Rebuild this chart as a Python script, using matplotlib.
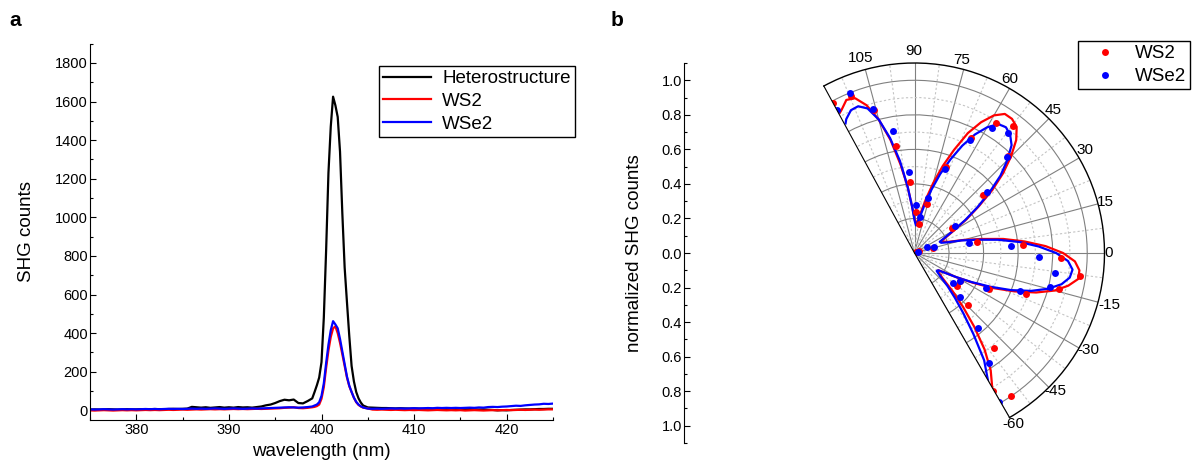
import numpy as np
import matplotlib
matplotlib.use("Agg")
import matplotlib.pyplot as plt
from matplotlib.ticker import MultipleLocator, NullFormatter

plt.rcParams['font.family'] = ['Liberation Sans', 'DejaVu Sans']

# ---------------- panel a: SHG spectra ----------------
# sampling grid: coarse on the flanks, finer across the peak
wl_left = np.arange(375.0, 399.01, 0.5)
wl_peak = np.arange(399.25, 404.51, 0.25)
wl_right = np.arange(405.0, 425.01, 0.5)
wavelength = np.concatenate([wl_left, wl_peak, wl_right])

hetero = [
    4, 5, 4, 5, 6, 5, 4, 5, 6, 5,
    5, 6, 5, 6, 7, 6, 6, 7, 8, 7,
    8, 9, 18, 16, 14, 16, 13, 15, 17, 14,
    16, 14, 17, 15, 16, 14, 17, 20, 26, 30,
    38, 48, 55, 52, 56, 38, 36, 48, 62,
    95, 130, 170, 250, 480, 830, 1230, 1470, 1625, 1580, 1520,
    1340, 1020, 740, 560, 385, 230, 150, 95, 62, 40, 25,
    15, 14, 13, 12, 12, 11, 10, 11, 10, 9,
    10, 9, 8, 9, 8, 7, 8, 7, 6, 7,
    6, 5, 6, 5, 4, 5, 3, 2, 0, 1,
    0, 2, 3, 4, 5, 5, 6, 7, 7, 8,
    8]

ws2 = [
    0, -1, 0, 1, 0, -1, 0, 1, 0, 1,
    0, 1, 2, 1, 2, 1, 2, 3, 2, 3,
    4, 3, 4, 5, 4, 5, 6, 5, 6, 5,
    6, 7, 6, 7, 6, 7, 8, 7, 8, 9,
    10, 11, 13, 14, 16, 12, 11, 13, 16,
    18, 22, 30, 60, 120, 220, 310, 380, 425, 435, 400,
    350, 290, 230, 170, 125, 95, 65, 42, 28, 20, 14,
    10, 4, 3, 4, 3, 2, 3, 2, 1, 2,
    1, 2, 1, 0, 1, 2, 1, 0, 1, 0,
    1, -1, 0, 1, 0, -1, 0, 1, 0, 1,
    2, 1, 2, 3, 2, 3, 4, 3, 4, 5,
    5]

wse2 = [
    5, 4, 5, 6, 5, 4, 5, 6, 5, 6,
    5, 6, 7, 6, 7, 6, 7, 8, 7, 8,
    7, 8, 9, 8, 9, 8, 9, 10, 9, 8,
    9, 10, 9, 8, 9, 10, 9, 10, 11, 12,
    13, 14, 15, 16, 15, 14, 15, 17, 20,
    25, 30, 42, 75, 140, 245, 340, 415, 462, 445, 425,
    370, 305, 240, 175, 128, 95, 66, 44, 30, 21, 15,
    9, 8, 9, 8, 9, 10, 9, 10, 9, 10,
    11, 10, 11, 12, 11, 13, 12, 13, 12, 13,
    12, 13, 14, 13, 15, 14, 17, 18, 17, 19,
    20, 22, 24, 23, 26, 28, 30, 31, 34, 33,
    35]

# ---------------- panel b: polarization dependence ----------------
ws2_theta = [118.5, 112, 106, 100, 94, 88, 82, 76, 70, 64,
             58, 52, 46, 40, 34, 28, 22, 16, 10, 4,
             -2, -8, -14, -20, -26, -32, -38, -44, -50, -56, -60.5]
ws2_r = [0.99, 0.98, 0.86, 0.63, 0.41, 0.24, 0.17, 0.29, 0.53, 0.74,
         0.89, 0.93, 0.78, 0.52, 0.26, 0.03, 0.01, 0.11, 0.37, 0.63,
         0.85, 0.97, 0.86, 0.69, 0.48, 0.31, 0.31, 0.43, 0.72, 1.00, 0.92]
wse2_theta = ws2_theta
wse2_r = [0.94, 1.00, 0.87, 0.72, 0.47, 0.28, 0.21, 0.33, 0.52, 0.73,
          0.85, 0.88, 0.77, 0.55, 0.28, 0.08, 0.02, 0.12, 0.32, 0.56,
          0.72, 0.82, 0.81, 0.65, 0.46, 0.31, 0.28, 0.37, 0.57, 0.77, 0.99]

# fitted curves, read every 3 degrees
fit_theta = list(range(-60, 118, 3)) + [118]
ws2_fit = [0.90, 0.81, 0.69, 0.55, 0.42, 0.31, 0.22, 0.18,
           0.17, 0.21, 0.28, 0.38, 0.50, 0.62, 0.74, 0.84, 0.91, 0.96,
           0.96, 0.93, 0.86, 0.76, 0.64, 0.52, 0.39, 0.29, 0.21, 0.18,
           0.17, 0.21, 0.27, 0.36, 0.46, 0.58, 0.69, 0.79, 0.88, 0.94,
           0.96, 0.96, 0.92, 0.85, 0.76, 0.64, 0.53, 0.42, 0.32, 0.24, 0.19,
           0.17, 0.20, 0.27, 0.39, 0.52, 0.67, 0.80, 0.90, 0.96, 0.97, 0.93, 0.92]
wse2_fit = [0.85, 0.74, 0.58, 0.45, 0.35, 0.27, 0.20, 0.165,
            0.17, 0.21, 0.28, 0.37, 0.48, 0.60, 0.71, 0.80, 0.87, 0.91,
            0.92, 0.89, 0.82, 0.72, 0.61, 0.49, 0.37, 0.28, 0.20, 0.165,
            0.16, 0.20, 0.26, 0.35, 0.45, 0.56, 0.67, 0.76, 0.84, 0.88,
            0.90, 0.89, 0.84, 0.77, 0.68, 0.58, 0.48, 0.38, 0.29, 0.22, 0.18,
            0.16, 0.19, 0.27, 0.39, 0.54, 0.68, 0.80, 0.88, 0.91, 0.905, 0.87, 0.85]

r_ticks = [-1.0, -0.8, -0.6, -0.4, -0.2, 0.0, 0.2, 0.4, 0.6, 0.8, 1.0]
r_labels = ['1.0', '0.8', '0.6', '0.4', '0.2', '0.0', '0.2', '0.4', '0.6', '0.8', '1.0']
angle_ticks = [-60, -45, -30, -15, 0, 15, 30, 45, 60, 75, 90, 105]
# where each angle label sits relative to the rim, in pixels (x right, y up)
angle_label_offset = {-60: (3.5, -6), -45: (7, -4), -30: (9, -2), -15: (11, -3),
                      0: (4, 0), 15: (7, 2), 30: (6, 8), 45: (4, 8.5),
                      60: (0.5, 9.5), 75: (-2, 9.5), 90: (-1, 12), 105: (-5, 11.5)}

W, H = 1192, 469
fig = plt.figure(figsize=(W / 100, H / 100), dpi=100)


def fig_rect(x0, y0, x1, y1):
    # pixel box from the top-left corner -> figure fraction
    return [x0 / W, 1 - y1 / H, (x1 - x0) / W, (y1 - y0) / H]


ax = fig.add_axes(fig_rect(90, 43.6, 553, 420))
ax.plot(wavelength, hetero, color='black', lw=1.6, label='Heterostructure')
ax.plot(wavelength, ws2, color='red', lw=1.6, label='WS2')
ax.plot(wavelength, wse2, color='blue', lw=1.6, label='WSe2')
ax.set_xlim(375, 425)
ax.set_ylim(-50, 1900)
ax.set_xticks([380, 390, 400, 410, 420])
ax.set_yticks(range(0, 1801, 200))
ax.xaxis.set_minor_locator(MultipleLocator(5))
ax.yaxis.set_minor_locator(MultipleLocator(100))
ax.tick_params(direction='in', labelsize=10.5, length=4, width=0.8)
ax.tick_params(axis='y', pad=1.5)
ax.tick_params(axis='x', pad=2)
ax.tick_params(which='minor', direction='in', length=2, width=0.8)
ax.spines[['top', 'right']].set_visible(False)
ax.set_xlabel('wavelength (nm)', fontsize=13.5)
ax.set_ylabel('SHG counts', fontsize=13.5)
ax.xaxis.set_label_coords(0.5, -0.062)
ax.yaxis.set_label_coords(-0.118, 0.5)
leg = ax.legend(loc='upper right', bbox_to_anchor=(575 / W, 1 - 66 / H),
                bbox_transform=fig.transFigure, fontsize=13.5, fancybox=False,
                edgecolor='black', framealpha=1, borderaxespad=0,
                labelspacing=0.3, handlelength=2.55, handletextpad=0.6,
                borderpad=0.22)
leg.get_frame().set_linewidth(1.0)

fig.text(15 / W, 1 - 20 / H, 'a', fontsize=15, fontweight='bold',
         ha='center', va='center')
fig.text(617 / W, 1 - 20 / H, 'b', fontsize=15, fontweight='bold',
         ha='center', va='center')

# left-hand radial scale for panel b
axl = fig.add_axes(fig_rect(684, 63, 685, 443))
axl.set_ylim(-1.1, 1.1)
axl.set_yticks(r_ticks)
axl.set_yticklabels(r_labels)
axl.yaxis.set_minor_locator(MultipleLocator(0.1))
axl.set_xticks([])
axl.spines[['top', 'right', 'bottom']].set_visible(False)
axl.patch.set_visible(False)
axl.tick_params(axis='y', direction='in', labelsize=10.5, length=4, width=0.8, pad=1.5)
axl.tick_params(axis='y', which='minor', direction='in', length=2, width=0.8)
axl.set_ylabel('normalized SHG counts', fontsize=13.5)
axl.yaxis.set_label_coords(643 / W, 0.5 * (1 - 63 / H + 1 - 443 / H),
                           transform=fig.transFigure)

# polar panel
axp = fig.add_axes([0.6, 0.1, 380 / W, 380 / H], projection='polar')
axp.set_thetamin(-60)
axp.set_thetamax(118.5)
axp.set_rlim(0, 1.1)

axp.plot(np.deg2rad(fit_theta), ws2_fit, color='red', lw=1.6)
axp.plot(np.deg2rad(fit_theta), wse2_fit, color='blue', lw=1.6)
axp.plot(np.deg2rad(ws2_theta), ws2_r, 'o', color='red', ms=5, mec='none', label='WS2')
axp.plot(np.deg2rad(wse2_theta), wse2_r, 'o', color='blue', ms=5, mec='none', label='WSe2')

axp.set_thetagrids(angle_ticks, labels=[''] * len(angle_ticks))
axp.set_xticks(np.deg2rad(np.arange(-52.5, 118, 15)), minor=True)
axp.xaxis.set_minor_formatter(NullFormatter())
axp.set_yticks([0.2, 0.4, 0.6, 0.8, 1.0])
axp.set_yticks([0.1, 0.3, 0.5, 0.7, 0.9], minor=True)
axp.set_yticklabels([])
axp.yaxis.set_minor_formatter(NullFormatter())
axp.xaxis.grid(True, which='major', color='#808080', lw=0.8, ls='-')
axp.xaxis.grid(True, which='minor', color='#c4c4c4', lw=0.8, ls=(0, (2, 2)))
axp.yaxis.grid(True, which='major', color='#808080', lw=0.8, ls='-')
axp.yaxis.grid(True, which='minor', color='#c4c4c4', lw=0.8, ls=(0, (2, 2)))
axp.tick_params(axis='both', which='both', length=0)
axp.spines['polar'].set_color('black')
axp.spines['polar'].set_linewidth(1.0)
axp.spines['start'].set_visible(False)
axp.spines['end'].set_visible(False)
axp.spines['inner'].set_visible(False)

for a in angle_ticks:
    axp.annotate(str(a), xy=(np.deg2rad(a), 1.1), xytext=angle_label_offset[a],
                 textcoords='offset pixels', ha='center', va='center',
                 fontsize=11, annotation_clip=False)

legp = axp.legend(loc='upper right', bbox_to_anchor=(1190 / W, 1 - 41 / H),
                  bbox_transform=fig.transFigure, fontsize=13.5, fancybox=False,
                  edgecolor='black', framealpha=1, borderaxespad=0,
                  labelspacing=0.3, handlelength=2.5, handletextpad=0.3,
                  borderpad=0.23)
legp.get_frame().set_linewidth(1.0)

# put the pole at the measured spot and scale r=1.1 to the measured radius
target = np.array([914.5, H - 253.0])
target_R = 190.0
x0, y0, side = 720.0, 40.0, 380.0
for _ in range(3):
    axp.set_position([x0 / W, y0 / H, side / W, side / H])
    fig.canvas.draw()
    c = axp.transData.transform((0.0, 0.0))
    tip = axp.transData.transform((np.pi / 2, 1.1))
    s = target_R / np.hypot(*(tip - c))
    x0 = target[0] - (c[0] - x0) * s
    y0 = target[1] - (c[1] - y0) * s
    side *= s
axp.set_position([x0 / W, y0 / H, side / W, side / H])

fig.savefig('out.png', dpi=100)
